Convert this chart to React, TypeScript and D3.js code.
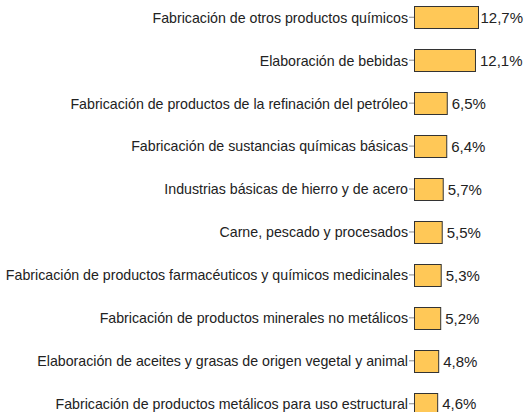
import { useEffect, useRef } from 'react'
import * as d3 from 'd3'

const categories = [
  'Fabricación de otros productos químicos',
  'Elaboración de bebidas',
  'Fabricación de productos de la refinación del petróleo',
  'Fabricación de sustancias químicas básicas',
  'Industrias básicas de hierro y de acero',
  'Carne, pescado y procesados',
  'Fabricación de productos farmacéuticos y químicos medicinales',
  'Fabricación de productos minerales no metálicos',
  'Elaboración de aceites y grasas de origen vegetal y animal',
  'Fabricación de productos metálicos para uso estructural',
]
const values = [12.7, 12.1, 6.5, 6.4, 5.7, 5.5, 5.3, 5.2, 4.8, 4.6]
const valueLabels = ['12,7%', '12,1%', '6,5%', '6,4%', '5,7%', '5,5%', '5,3%', '5,2%', '4,8%', '4,6%']

const W = 526
const H = 412
const FONT = 'Liberation Sans, Arial, sans-serif'

export default function App() {
  const ref = useRef<SVGSVGElement>(null)

  useEffect(() => {
    const svg = d3.select(ref.current)
    svg.selectAll('*').remove()

    const left = 414
    const x = d3.scaleLinear().domain([0, 12.7]).range([0, 64])
    const y = d3.scaleBand<string>()
      .domain(categories)
      .range([-4, 425])
      .paddingInner(0.49)
      .paddingOuter(0.24)

    const g = svg.append('g').attr('transform', `translate(${left},0)`)

    const axis = d3.axisLeft(y).tickSize(5).tickPadding(1)
    const ag = g.append('g').call(axis)
    ag.select('.domain').remove()
    ag.selectAll('line').attr('stroke', '#888')
    ag.selectAll('text')
      .attr('fill', '#222')
      .attr('dy', '0.38em')
      .style('font-family', FONT)
      .style('font-size', '14.2px')

    const rows = categories.map((c, i) => ({ c, v: values[i], l: valueLabels[i] }))

    g.selectAll('rect.bar')
      .data(rows)
      .join('rect')
      .attr('class', 'bar')
      .attr('x', 0.5)
      .attr('y', (d) => Math.round(y(d.c)!) + 0.5)
      .attr('width', (d) => x(d.v))
      .attr('height', Math.round(y.bandwidth()))
      .attr('fill', '#FFC857')
      .attr('stroke', '#333')
      .attr('stroke-width', 1)

    const vals = g.selectAll<SVGTextElement, typeof rows[number]>('text.val')
      .data(rows)
      .join('text')
      .attr('class', 'val')
      .attr('y', (d) => y(d.c)! + y.bandwidth() / 2)
      .attr('dy', '0.38em')
      .attr('fill', '#222')
      .style('font-family', FONT)
      .style('font-size', '15px')
      .text((d) => d.l)

    vals.attr('x', function (d) {
      const len = this.getComputedTextLength()
      return Math.min(x(d.v) + 5, W - 3 - left - len)
    })
  }, [])

  return (
    <svg
      ref={ref}
      width={W}
      height={H}
      style={{ position: 'absolute', left: 0, top: 0, background: '#fff' }}
    />
  )
}
